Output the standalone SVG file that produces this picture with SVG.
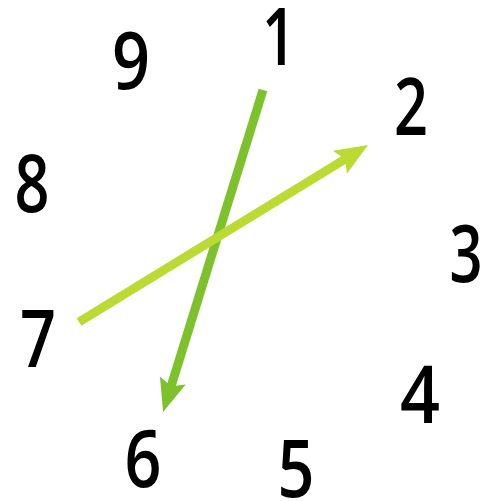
<svg xmlns="http://www.w3.org/2000/svg" width="485" height="501" viewBox="0 0 485 501">
<style>
.num{font-family:"Open Sans","DejaVu Sans",sans-serif;font-size:80px;font-weight:600;fill:#000;text-anchor:middle}
.a1{stroke:#7dc22d;stroke-width:9;fill:none}
.a2{stroke:#bbda33;stroke-width:9;fill:none}
</style>
<defs>
<marker id="h1" markerUnits="userSpaceOnUse" markerWidth="40" markerHeight="30" viewBox="-14 -15 40 30" refX="0" refY="0" orient="auto">
<path d="M20,0 L-13,-13.5 L-7,0 L-13,13.5 Z" fill="#7dc22d"/>
</marker>
<marker id="h2" markerUnits="userSpaceOnUse" markerWidth="40" markerHeight="30" viewBox="-14 -15 40 30" refX="0" refY="0" orient="auto">
<path d="M20,0 L-13,-13.5 L-7,0 L-13,13.5 Z" fill="#bbda33"/>
</marker>
</defs>
<g id="connectors">
<path class="a1" d="M263,90 L169,393" marker-end="url(#h1)"/>
<path class="a2" d="M79,322 L351,155.5" marker-end="url(#h2)"/>
</g>
<g id="n1"><text class="num" x="279" y="65" textLength="34" lengthAdjust="spacingAndGlyphs">1</text></g>
<g id="n2"><text class="num" x="411" y="135" textLength="34" lengthAdjust="spacingAndGlyphs">2</text></g>
<g id="n3"><text class="num" x="466" y="282" textLength="33" lengthAdjust="spacingAndGlyphs">3</text></g>
<g id="n4"><text class="num" x="420" y="423" textLength="40" lengthAdjust="spacingAndGlyphs">4</text></g>
<g id="n5"><text class="num" x="296" y="497" textLength="37" lengthAdjust="spacingAndGlyphs">5</text></g>
<g id="n6"><text class="num" x="143" y="487" textLength="37" lengthAdjust="spacingAndGlyphs">6</text></g>
<g id="n7"><text class="num" x="38" y="367" textLength="36" lengthAdjust="spacingAndGlyphs">7</text></g>
<g id="n8"><text class="num" x="32" y="212" textLength="35" lengthAdjust="spacingAndGlyphs">8</text></g>
<g id="n9"><text class="num" x="131" y="89" textLength="38" lengthAdjust="spacingAndGlyphs">9</text></g>
</svg>
